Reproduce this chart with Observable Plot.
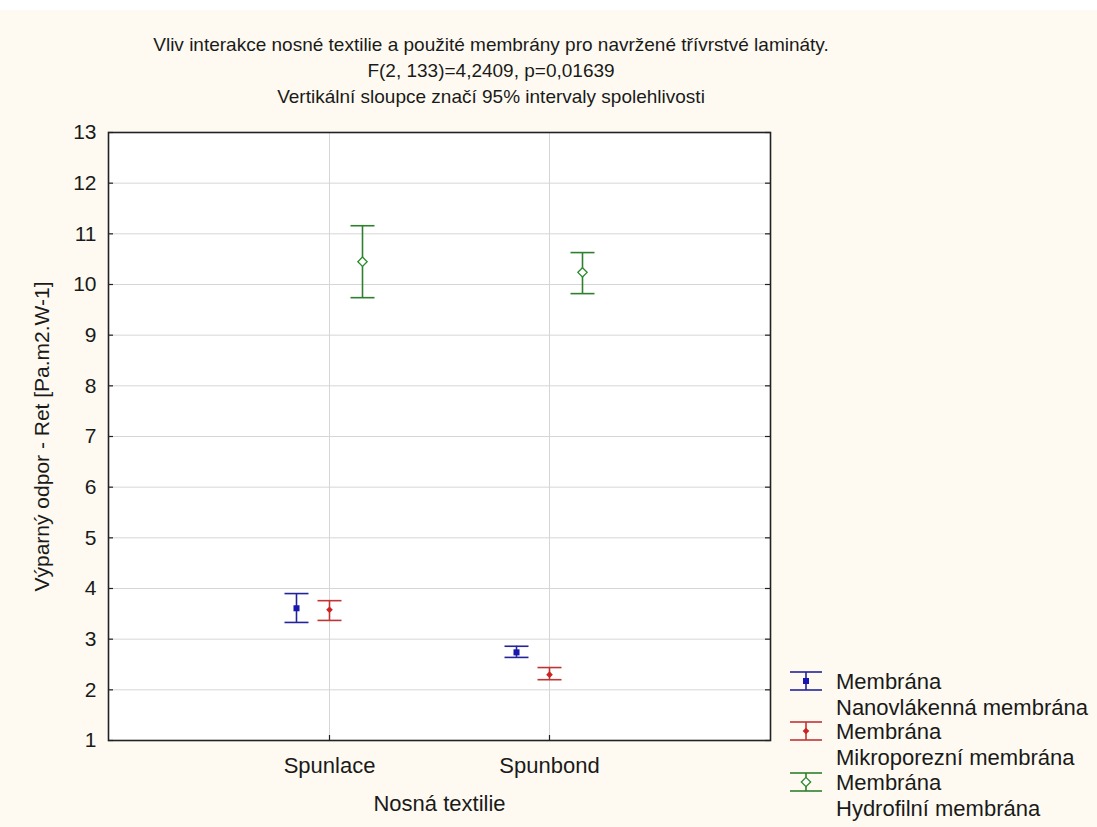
<!DOCTYPE html>
<html><head><meta charset="utf-8">
<script src="https://cdn.jsdelivr.net/npm/d3@7"></script>
<script src="https://cdn.jsdelivr.net/npm/@observablehq/plot@0.6"></script>
<style>
html,body{margin:0;padding:0;background:#fefaf1;}
#wrap{position:relative;width:1097px;height:827px;font-family:"Liberation Sans",Arial,sans-serif;color:#1a1a1a;}
#topband{position:absolute;left:0;top:0;width:1097px;height:10px;background:#ffffff;}
#title{position:absolute;left:0;width:982px;top:32px;text-align:center;font-size:19px;line-height:26px;}
#chart{position:absolute;left:0;top:0;}
</style></head>
<body><div id="wrap"><div id="topband"></div><div id="chart"></div>
<div id="title">Vliv interakce nosné textilie a použité membrány pro navržené třívrstvé lamináty.<br>F(2, 133)=4,2409, p=0,01639<br>Vertikální sloupce značí 95% intervaly spolehlivosti</div>
</div>
<script>
const textiles = ["Spunlace", "Spunbond"];
const membranes = ["Nanovlákenná membrána", "Mikroporezní membrána", "Hydrofilní membrána"];
const legendHeader = "Membrána";
const meanNano = [3.61, 2.74];
const lowNano = [3.33, 2.64];
const highNano = [3.90, 2.86];
const meanMikro = [3.58, 2.30];
const lowMikro = [3.37, 2.20];
const highMikro = [3.76, 2.44];
const meanHydro = [10.45, 10.24];
const lowHydro = [9.74, 9.82];
const highHydro = [11.16, 10.63];
const yTicks = [1, 2, 3, 4, 5, 6, 7, 8, 9, 10, 11, 12, 13];

const colors = ["#1818b0", "#cc2222", "#2b8a2b"];
const lineColors = ["#24249a", "#c03434", "#2e802e"];
const offsets = [-33, 0, 33];
const means = [meanNano, meanMikro, meanHydro];
const lows = [lowNano, lowMikro, lowHydro];
const highs = [highNano, highMikro, highHydro];

const capSymbol = {draw(ctx) { ctx.moveTo(-12, 0); ctx.lineTo(12, 0); }};
const markerSpec = [
  {symbol: "square", r: 3.4, fill: colors[0], stroke: "none"},
  {symbol: "diamond2", r: 3.0, fill: colors[1], stroke: "none"},
  {symbol: "diamond2", r: 4.2, fill: "white", stroke: colors[2]}
];

const series = membranes.map((m, i) => textiles.map((t, j) => ({
  textile: t, membrane: m, mean: means[i][j], low: lows[i][j], high: highs[i][j]
})));

const W = 1097, H = 827;
const mL = 108, mR = W - 770, mT = 132, mB = H - 740;
const fw = W - mL - mR, fh = H - mT - mB;
const grid = "#d6d6d6";
const FS = 22;

const marks = [
  Plot.frame({fill: "white", stroke: "none"}),
  Plot.ruleY(yTicks.slice(1, -1), {y: d => d, stroke: grid, strokeWidth: 1}),
  Plot.ruleX(textiles, {x: d => d, stroke: grid, strokeWidth: 1}),
  Plot.ruleY(yTicks, {y: d => d, stroke: "#222", strokeWidth: 1.2, insetRight: fw - 5}),
  Plot.ruleY(yTicks, {y: d => d, stroke: "#222", strokeWidth: 1.2, insetLeft: fw - 5}),
  Plot.ruleX(textiles, {x: d => d, stroke: "#222", strokeWidth: 1.2, insetTop: fh - 5}),
  Plot.frame({stroke: "#222", strokeWidth: 1.6}),
  Plot.axisY({ticks: yTicks, tickSize: 0, tickPadding: 12, fontSize: 21,
    label: "Výparný odpor - Ret [Pa.m2.W-1]", labelAnchor: "center", labelArrow: "none", labelOffset: 74}),
  Plot.axisX({tickSize: 0, tickPadding: 17, fontSize: FS,
    label: "Nosná textilie", labelAnchor: "center", labelArrow: "none", labelOffset: 70})
];
series.forEach((data, i) => {
  marks.push(
    Plot.ruleX(data, {x: "textile", y1: "low", y2: "high", dx: offsets[i], stroke: lineColors[i], strokeWidth: 1.6}),
    Plot.dot(data, {x: "textile", y: "low", dx: offsets[i], symbol: capSymbol, r: 5, fill: "none", stroke: lineColors[i], strokeWidth: 1.6}),
    Plot.dot(data, {x: "textile", y: "high", dx: offsets[i], symbol: capSymbol, r: 5, fill: "none", stroke: lineColors[i], strokeWidth: 1.6}),
    Plot.dot(data, {x: "textile", y: "mean", dx: offsets[i], ...markerSpec[i], strokeWidth: 1.3})
  );
});

const chart = Plot.plot({
  width: W, height: H,
  marginLeft: mL, marginRight: mR, marginTop: mT, marginBottom: mB,
  style: {background: "transparent", fontFamily: "Liberation Sans, Arial, sans-serif", fontSize: FS + "px", color: "#1a1a1a"},
  x: {type: "point", domain: textiles, padding: 1},
  y: {domain: [1, 13]},
  marks
});
document.getElementById("chart").appendChild(chart);

// legend
const svg = d3.select(chart);
const lg = svg.append("g").attr("font-family", "Liberation Sans, Arial, sans-serif").attr("font-size", FS).attr("fill", "#1a1a1a").attr("text-anchor", "start");
const symY = [681, 731, 782];
membranes.forEach((m, i) => {
  const g = lg.append("g").attr("transform", `translate(806,${symY[i]})`);
  const s = markerSpec[i];
  g.append("line").attr("x1", 0).attr("x2", 0).attr("y1", -9).attr("y2", 9).attr("stroke", lineColors[i]).attr("stroke-width", 1.6);
  g.append("line").attr("x1", -16).attr("x2", 16).attr("y1", -9).attr("y2", -9).attr("stroke", lineColors[i]).attr("stroke-width", 1.6);
  g.append("line").attr("x1", -16).attr("x2", 16).attr("y1", 9).attr("y2", 9).attr("stroke", lineColors[i]).attr("stroke-width", 1.6);
  const sym = s.symbol === "square" ? d3.symbolSquare : d3.symbolDiamond2;
  g.append("path").attr("d", d3.symbol(sym, Math.PI * s.r * s.r)()).attr("fill", s.fill).attr("stroke", s.stroke).attr("stroke-width", 1.3);
  lg.append("text").attr("x", 836).attr("y", symY[i]).attr("dy", "0.35em").text(legendHeader);
  lg.append("text").attr("x", 836).attr("y", symY[i] + 26).attr("dy", "0.35em").text(m);
});
</script></body></html>
